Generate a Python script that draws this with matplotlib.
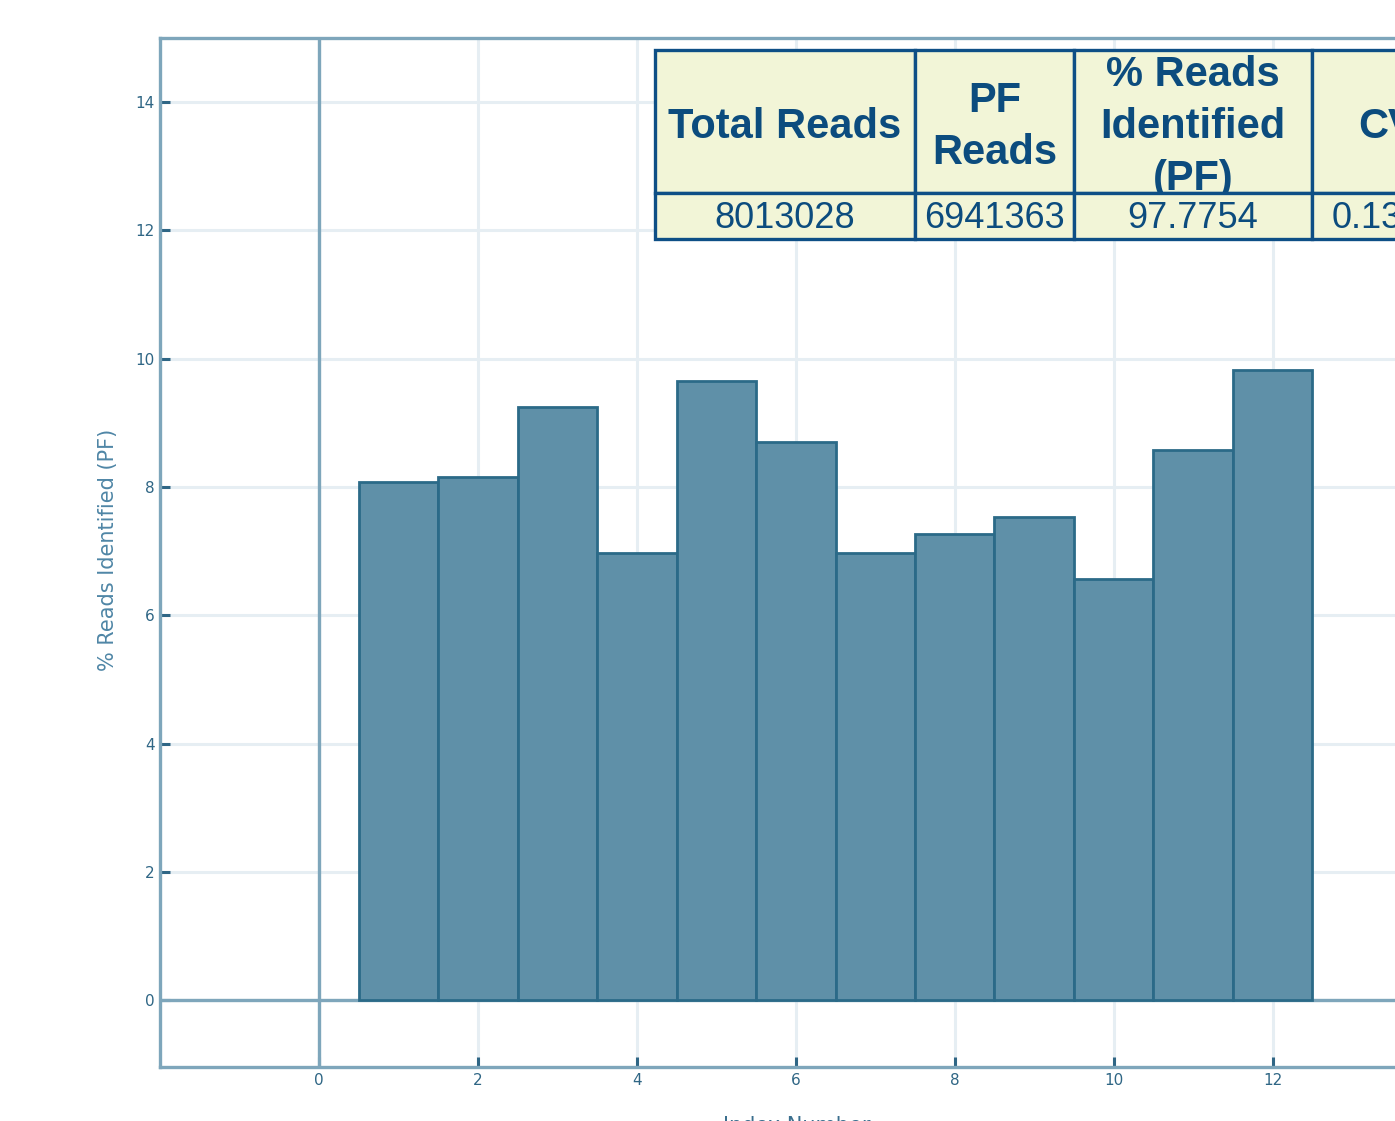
import matplotlib
matplotlib.use("Agg")
import matplotlib.pyplot as plt
from matplotlib.patches import Rectangle

# index number and % reads identified (PF) per index
index_number = [1, 2, 3, 4, 5, 6, 7, 8, 9, 10, 11, 12]
pct_identified = [8.08, 8.16, 9.25, 6.98, 9.66, 8.71, 6.98, 7.27, 7.54, 6.56, 8.57, 9.83]

# summary table (cropped on the right in the original)
table_headers = ["Total Reads", "PF\nReads", "% Reads\nIdentified\n(PF)", "CV"]
table_values = ["8013028", "6941363", "97.7754", "0.1348"]

x_ticks = [0, 2, 4, 6, 8, 10, 12]
y_ticks = [0, 2, 4, 6, 8, 10, 12, 14]

W, H = 1395, 1121
spine_col = "#7ea6bb"
grid_col = "#e6eef3"
bar_fill = "#5f90a8"
bar_edge = "#2b6a88"
tick_col = "#2f6685"
tab_fill = "#f2f5d7"
tab_edge = "#0e4f86"
tab_text = "#0c4c7e"

fig = plt.figure(figsize=(W / 100, H / 100), dpi=100)
# axes runs past the right edge of the picture, like the cropped original
ax = fig.add_axes([160 / W, 54 / H, 1351 / W, 1029 / H])

ax.set_xlim(-2, 15)
ax.set_ylim(-1.04, 15)

ax.bar(index_number, pct_identified, width=1.0, color=bar_fill,
       edgecolor=bar_edge, linewidth=2, zorder=3)
ax.axvline(0, color=spine_col, lw=2.4, zorder=2)
ax.axhline(0, color=spine_col, lw=2.4, zorder=2)

ax.set_xticks(x_ticks)
ax.set_yticks(y_ticks)
ax.grid(True, color=grid_col, lw=2.2, zorder=0)
ax.set_axisbelow(True)
for side in ["left", "bottom", "top"]:
    ax.spines[side].set_color(spine_col)
    ax.spines[side].set_linewidth(2.4)
ax.spines["right"].set_visible(False)
ax.tick_params(direction="in", length=7, width=2.2, color=tick_col,
               labelcolor=tick_col, labelsize=11, pad=4)

ax.set_ylabel("% Reads Identified (PF)", color="#4f86a6", fontsize=15)
ax.yaxis.set_label_coords(-0.031, (1067 - 550) / 1029)
ax.set_xlabel("Index Number", color="#3b6f8e", fontsize=15)
ax.xaxis.set_label_coords((797 - 160) / 1351, -0.048)

# table drawn in figure pixels
col_edges = [655, 915, 1074, 1312, 1462]
row_top, row_mid, row_bot = 50, 193, 239


def fx(px):
    return px / W


def fy(py):
    return 1 - py / H


for i, (head, val) in enumerate(zip(table_headers, table_values)):
    x0, x1 = col_edges[i], col_edges[i + 1]
    fig.patches.append(Rectangle((fx(x0), fy(row_mid)), fx(x1 - x0), (row_mid - row_top) / H,
                                 transform=fig.transFigure, facecolor=tab_fill,
                                 edgecolor=tab_edge, lw=2.4, zorder=2))
    fig.text(fx((x0 + x1) / 2), fy(127), head, ha="center", va="center",
             fontsize=30, fontweight="bold", color=tab_text,
             family="Liberation Sans", linespacing=1.38, zorder=3)
    fig.patches.append(Rectangle((fx(x0), fy(row_bot)), fx(x1 - x0), (row_bot - row_mid) / H,
                                 transform=fig.transFigure, facecolor=tab_fill,
                                 edgecolor=tab_edge, lw=2.4, zorder=4))
    fig.text(fx((x0 + x1) / 2), fy(218), val, ha="center", va="center",
             fontsize=26, color=tab_text, family="Liberation Sans", zorder=5)

fig.savefig("out.png", dpi=100)
